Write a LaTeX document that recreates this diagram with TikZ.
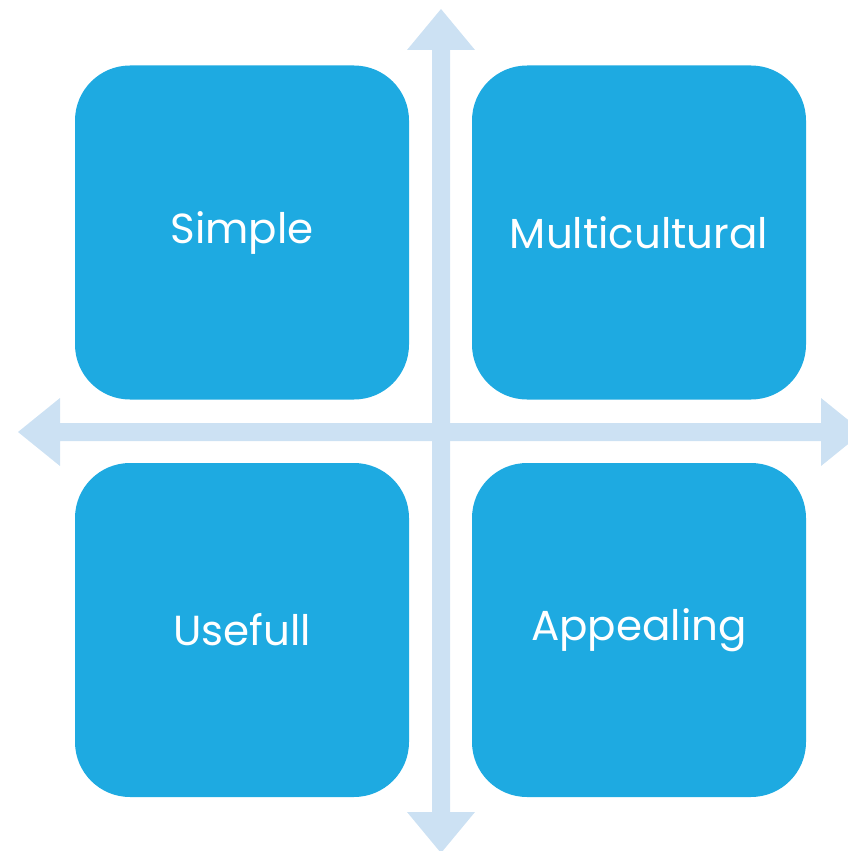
\documentclass[tikz,border=0pt]{standalone}
\usepackage{fontspec}
\setmainfont{Poppins}
\definecolor{boxblue}{HTML}{1EAAE1}
\definecolor{arrowblue}{HTML}{CCE1F3}
\begin{document}
\begin{tikzpicture}[x=1pt,y=-1pt,
  quad/.style={fill=boxblue,draw=none,rounded corners=55pt,minimum width=334pt,minimum height=334pt,inner sep=0pt,text=white,font=\fontsize{42}{48}\selectfont},
  arrowfill/.style={fill=arrowblue,draw=none}]
\useasboundingbox (0,0) rectangle (848,851);
\clip (0,0) rectangle (848,851);
% vertical double arrow
\fill[arrowfill] (441,9) -- (475,50) -- (450,50) -- (450,812) -- (475,812) -- (441,853) -- (407,812) -- (432,812) -- (432,50) -- (407,50) -- cycle;
% horizontal double arrow
\fill[arrowfill] (18,432) -- (60,398) -- (60,423) -- (821,423) -- (821,398) -- (863,432) -- (821,466) -- (821,441) -- (60,441) -- (60,466) -- cycle;
\node[quad] (simple) at (242,232.5) {Simple};
\node[quad] (multi) at (639,232.5) {Multicultural};
\node[quad] (useful) at (242,630) {Usefull};
\node[quad] (appeal) at (639,630) {Appealing};
\end{tikzpicture}
\end{document}
